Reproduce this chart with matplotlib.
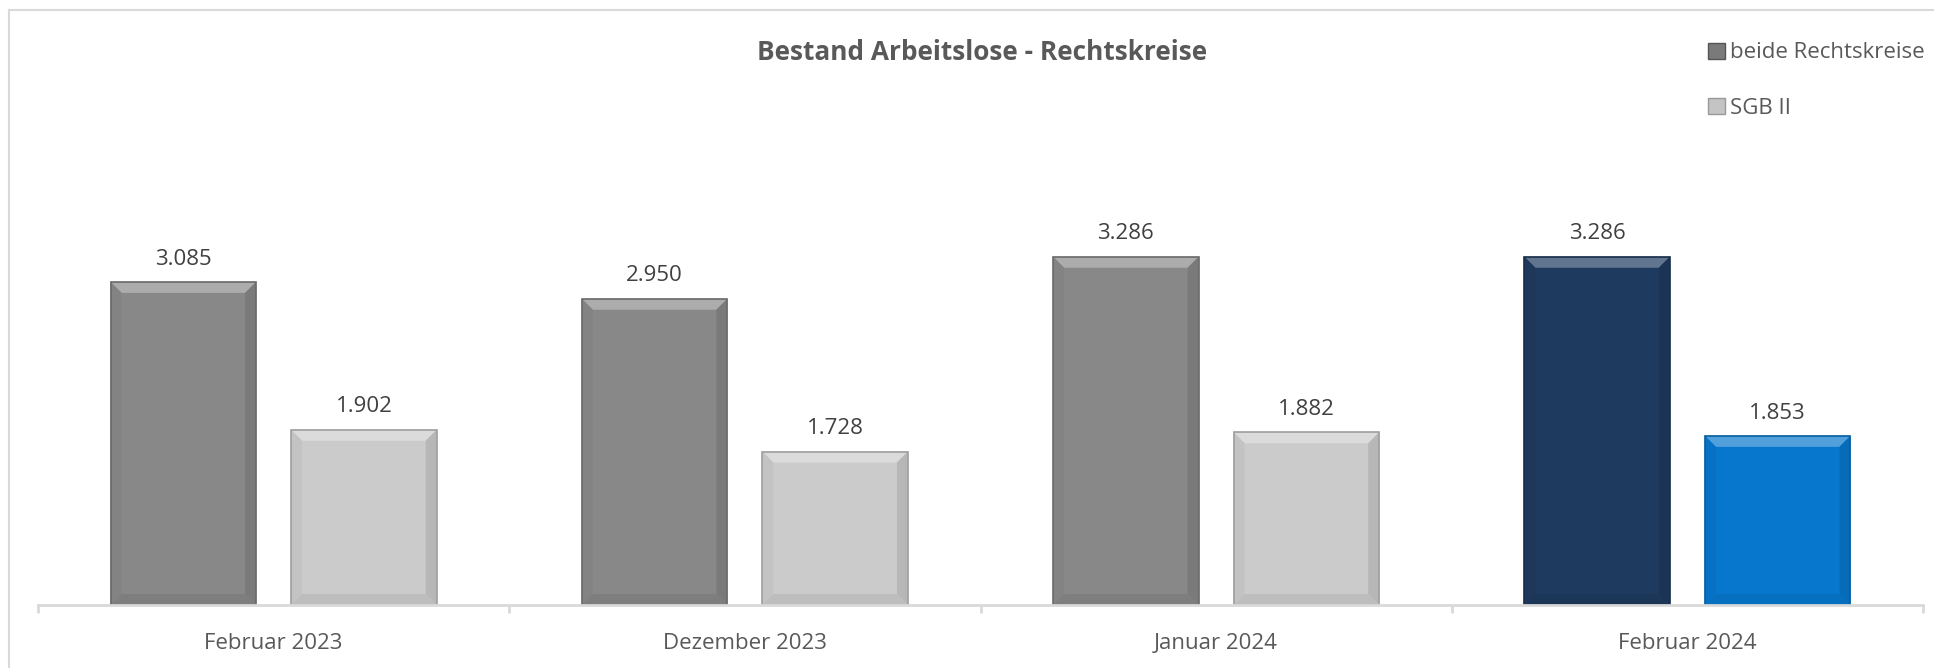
import matplotlib
matplotlib.use("Agg")
import matplotlib.pyplot as plt
from matplotlib.patches import Polygon, Rectangle
from matplotlib.lines import Line2D
import numpy as np

plt.rcParams['font.family'] = ['Open Sans', 'DejaVu Sans']

# data
categories = ['Februar 2023', 'Dezember 2023', 'Januar 2024', 'Februar 2024']
beide = [3085, 2950, 3286, 3286]
sgb2 = [1902, 1728, 1882, 1853]
series_names = ['beide Rechtskreise', 'SGB II']

# colours (last month highlighted)
beide_colors = ['#888888', '#888888', '#888888', '#1e3a5f']
sgb2_colors = ['#cbcbcb', '#cbcbcb', '#cbcbcb', '#0777cd']
text_color = '#595959'
line_color = '#d9d9d9'

W, H, DPI = 1934, 668, 100
fig = plt.figure(figsize=(W / DPI, H / DPI), dpi=DPI)
ax = fig.add_axes([38 / W, (H - 605) / H, (1923 - 38) / W, 375 / H])

x = np.arange(len(categories))
bw = 0.309
off = 0.1916
ax.set_xlim(-0.5, len(categories) - 0.5)
ax.set_ylim(500, 3500)


def shade(c, f):
    rgb = np.array(matplotlib.colors.to_rgb(c))
    if f > 0:
        rgb = rgb + (1 - rgb) * f
    else:
        rgb = rgb * (1 + f)
    return tuple(np.clip(rgb, 0, 1))


# pixel -> data size for the bevel
px_x = len(categories) / (1923 - 38)
px_y = 3000 / 375
bev = 11


def bevel_bar(xc, val, color):
    bars = ax.bar(xc, val - 500, bw, bottom=500, color=color,
                  edgecolor='none', zorder=2)
    r = bars[0]
    x0, x1 = r.get_x(), r.get_x() + r.get_width()
    y0, y1 = r.get_y(), r.get_y() + r.get_height()
    bx, by = bev * px_x, bev * px_y
    facets = [
        ([(x0, y1), (x1, y1), (x1 - bx, y1 - by), (x0 + bx, y1 - by)], 0.3),
        ([(x0, y0), (x0, y1), (x0 + bx, y1 - by), (x0 + bx, y0 + by)], -0.04),
        ([(x1, y0), (x1, y1), (x1 - bx, y1 - by), (x1 - bx, y0 + by)], -0.1),
        ([(x0, y0), (x1, y0), (x1 - bx, y0 + by), (x0 + bx, y0 + by)], -0.07),
    ]
    for pts, f in facets:
        ax.add_patch(Polygon(pts, closed=True, facecolor=shade(color, f),
                             edgecolor='none', zorder=3))
    ax.add_patch(Rectangle((x0, y0), x1 - x0, y1 - y0, fill=False,
                           edgecolor=shade(color, -0.22), linewidth=1.2, zorder=4))
    ax.annotate(f'{val:,}'.replace(',', '.'), (xc, y1), xytext=(0, 12.5),
                textcoords='offset points', ha='center', va='baseline',
                fontsize=16, color='#404040', annotation_clip=False)


for i in range(len(categories)):
    bevel_bar(x[i] - off, beide[i], beide_colors[i])
    bevel_bar(x[i] + off, sgb2[i], sgb2_colors[i])

# axes styling
for s in ['top', 'right', 'left']:
    ax.spines[s].set_visible(False)
ax.spines['bottom'].set_color(line_color)
ax.spines['bottom'].set_linewidth(2)
ax.spines['bottom'].set_zorder(5)
ax.set_yticks([])
ax.set_xticks(x)
ax.set_xticklabels(categories, fontsize=16, color=text_color)
ax.tick_params(axis='x', which='major', length=0, pad=20)
ax.set_xticks(np.arange(-0.5, len(categories)), minor=True)
ax.tick_params(axis='x', which='minor', length=6, width=2, color=line_color)

fig.text(982 / W, 1 - 53 / H, 'Bestand Arbeitslose - Rechtskreise', ha='center', va='center',
         fontsize=18.9, fontweight='bold', color=text_color)

handles = [Rectangle((0, 0), 1, 1, facecolor='#7a7a7a', edgecolor='#555555'),
           Rectangle((0, 0), 1, 1, facecolor='#c4c4c4', edgecolor='#999999')]
fig.legend(handles, series_names, loc='upper left', bbox_to_anchor=(1708 / W, 1 - 42.5 / H),
           frameon=False, fontsize=16, labelcolor=text_color, handlelength=0.75,
           handleheight=0.75, handletextpad=0.25, labelspacing=1.53, borderpad=0,
           borderaxespad=0)

# chart area border (top and left visible)
fig.add_artist(Line2D([9 / W, 1], [1 - 10 / H, 1 - 10 / H], color=line_color, lw=1.5))
fig.add_artist(Line2D([9 / W, 9 / W], [0, 1 - 10 / H], color=line_color, lw=1.5))

fig.savefig('out.png', dpi=DPI, facecolor='white')
